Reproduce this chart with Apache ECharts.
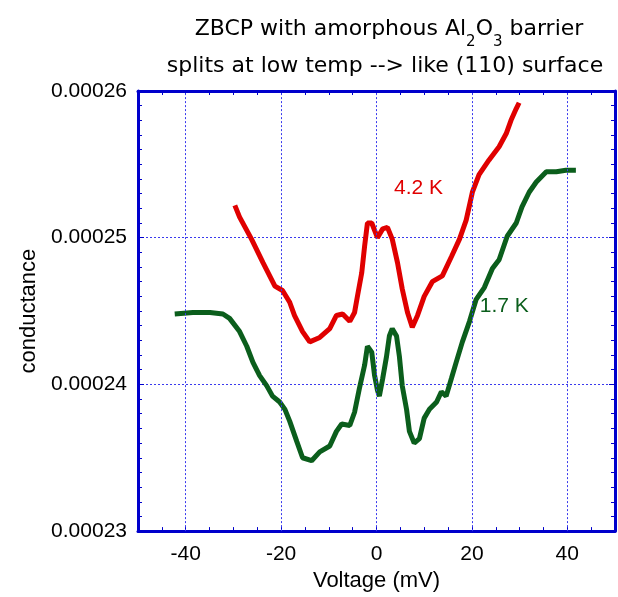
<!DOCTYPE html>
<html>
<head>
<meta charset="utf-8">
<script src="https://cdn.jsdelivr.net/npm/echarts@6/dist/echarts.min.js"></script>
<style>
  html, body { margin: 0; padding: 0; background: #fff; }
  #chart { width: 618px; height: 597px; }
</style>
</head>
<body>
<div id="chart"></div>
<script>
// 4.2 K curve (red)
const redV = [-29.7, -28.7, -26.2, -23.8, -21.3, -19.7, -18.2, -17.2, -15.5, -14.0, -11.9, -9.8, -8.4, -7.1, -5.6, -4.6, -4.0, -3.1, -2.5, -1.9, -1.0, 0.2, 1.3, 2.3, 3.3, 4.4, 5.4, 6.5, 7.5, 8.6, 10.0, 11.7, 13.8, 15.7, 17.4, 18.8, 20.1, 21.5, 23.6, 25.7, 27.2, 28.2, 29.3, 29.9];
const redG = [0.0002522, 0.0002514, 0.0002499, 0.0002483, 0.0002467, 0.0002464, 0.0002456, 0.0002447, 0.0002436, 0.0002429, 0.0002432, 0.0002438, 0.0002447, 0.0002448, 0.0002443, 0.0002449, 0.0002460, 0.0002476, 0.0002494, 0.0002510, 0.0002510, 0.0002500, 0.0002506, 0.0002507, 0.0002499, 0.0002483, 0.0002465, 0.0002449, 0.0002439, 0.0002447, 0.0002460, 0.0002470, 0.0002474, 0.0002487, 0.0002499, 0.0002512, 0.0002531, 0.0002543, 0.0002553, 0.0002562, 0.0002571, 0.0002580, 0.0002588, 0.0002592];

// 1.7 K curve (green)
const greenV = [-42.3, -38.5, -34.9, -32.2, -30.8, -28.7, -27.2, -25.9, -24.5, -23.0, -21.8, -20.3, -19.2, -18.2, -16.7, -15.5, -13.6, -11.9, -9.8, -8.4, -7.3, -5.6, -4.6, -3.6, -2.5, -1.9, -1.0, -0.4, 0.2, 0.6, 1.3, 2.1, 2.7, 3.3, 4.2, 4.8, 5.4, 6.3, 6.9, 7.9, 9.0, 10.0, 11.1, 12.6, 13.6, 14.6, 15.7, 16.7, 18.0, 19.5, 20.9, 22.6, 24.3, 25.7, 27.4, 29.3, 30.5, 32.0, 33.5, 35.6, 37.7, 39.7, 41.8];
const greenG = [0.0002448, 0.0002449, 0.0002449, 0.0002448, 0.0002445, 0.0002436, 0.0002426, 0.0002415, 0.0002406, 0.0002399, 0.0002392, 0.0002388, 0.0002383, 0.0002375, 0.0002361, 0.0002350, 0.0002348, 0.0002354, 0.0002358, 0.0002368, 0.0002373, 0.0002372, 0.0002381, 0.0002397, 0.0002413, 0.0002426, 0.0002422, 0.0002406, 0.0002396, 0.0002392, 0.0002404, 0.0002419, 0.0002433, 0.0002438, 0.0002433, 0.0002419, 0.0002399, 0.0002383, 0.0002368, 0.0002360, 0.0002363, 0.0002377, 0.0002383, 0.0002388, 0.0002395, 0.0002392, 0.0002404, 0.0002415, 0.0002429, 0.0002443, 0.0002458, 0.0002466, 0.0002479, 0.0002485, 0.0002501, 0.0002510, 0.0002521, 0.0002531, 0.0002538, 0.0002545, 0.0002545, 0.0002546, 0.0002546];

const xTicks = [-40, -20, 0, 20, 40];
const curveLabels = [
  { text: '4.2 K', v: 8.8, g: 0.0002534, color: '#e00000' },
  { text: '1.7 K', v: 26.8, g: 0.0002453, color: '#0b5e1c' }
];

const blue = '#0000cc';
const font = "'Liberation Sans', Arial, sans-serif";

function zip(a, b) {
  return a.map((v, i) => [v, b[i]]);
}

const chart = echarts.init(document.getElementById('chart'), null, { renderer: 'canvas' });

const edgeAxis = {
  type: 'value',
  axisLine: { show: true, onZero: false, lineStyle: { color: blue, width: 3 } },
  axisLabel: { show: false },
  splitLine: { show: false }
};

const option = {
  backgroundColor: '#fff',
  animation: false,
  title: [{
    text: 'ZBCP with amorphous Al{s|2}O{s|3} barrier',
    left: 384, top: 4, textAlign: 'center',
    textStyle: {
      fontFamily: 'DejaVu Sans', fontSize: 22, fontWeight: 'normal', color: '#000',
      rich: { s: { fontFamily: 'DejaVu Sans', fontSize: 15, padding: [26, 0, 0, 0], color: '#000' } }
    }
  }, {
    text: 'splits at low temp --> like (110) surface',
    left: 380, top: 50, textAlign: 'center',
    textStyle: { fontFamily: 'DejaVu Sans', fontSize: 22, fontWeight: 'normal', color: '#000' }
  }],
  grid: { left: 138, right: 2, top: 91, bottom: 64 },
  xAxis: [{
    type: 'value', min: -50, max: 50, interval: 10, position: 'bottom',
    name: 'Voltage (mV)', nameLocation: 'middle', nameGap: 36,
    nameTextStyle: { fontFamily: font, fontSize: 22, color: '#000' },
    axisLine: { show: true, onZero: false, lineStyle: { color: blue, width: 3 } },
    axisTick: { show: true, inside: true, length: 4, lineStyle: { color: blue } },
    minorTick: { show: true, splitNumber: 2, length: 4, lineStyle: { color: blue } },
    axisLabel: {
      margin: 13, fontFamily: font, fontSize: 21, color: '#000',
      formatter: v => (v % 20 === 0 && Math.abs(v) < 50) ? String(v) : ''
    },
    splitLine: { show: false }
  }, Object.assign({}, edgeAxis, {
    min: -50, max: 50, interval: 10, position: 'top',
    axisTick: { show: true, inside: true, length: 4, lineStyle: { color: blue } },
    minorTick: { show: true, splitNumber: 2, length: 4, lineStyle: { color: blue } }
  })],
  yAxis: [{
    type: 'value', min: 0.00023, max: 0.00026, interval: 0.00001, position: 'left',
    name: 'conductance', nameLocation: 'middle', nameGap: 90,
    nameTextStyle: { fontFamily: font, fontSize: 22, color: '#000' },
    axisLine: { show: true, onZero: false, lineStyle: { color: blue, width: 3 } },
    axisTick: { show: true, inside: true, length: 6, lineStyle: { color: blue } },
    minorTick: { show: true, splitNumber: 10, length: 4, lineStyle: { color: blue } },
    axisLabel: { margin: 11, fontFamily: font, fontSize: 21, color: '#000', formatter: v => v.toFixed(5) },
    splitLine: { show: true, lineStyle: { color: '#3a3aee', type: [2, 2], width: 1 } }
  }, Object.assign({}, edgeAxis, {
    min: 0.00023, max: 0.00026, interval: 0.00001, position: 'right',
    axisTick: { show: true, inside: true, length: 6, lineStyle: { color: blue } },
    minorTick: { show: true, splitNumber: 10, length: 4, lineStyle: { color: blue } }
  })],
  series: [{
    type: 'line', data: [], z: 1, silent: true,
    markLine: {
      silent: true, symbol: ['none', 'none'], label: { show: false },
      lineStyle: { color: '#3a3aee', type: [2, 2], width: 1 },
      data: xTicks.map(v => ({ xAxis: v }))
    }
  }, {
    name: '4.2 K', type: 'line', z: 3, showSymbol: false,
    lineStyle: { color: '#e00000', width: 5 },
    data: zip(redV, redG)
  }, {
    name: '1.7 K', type: 'line', z: 3, showSymbol: false,
    lineStyle: { color: '#0b5e1c', width: 5 },
    data: zip(greenV, greenG)
  }, {
    type: 'scatter', z: 4, symbolSize: 0, silent: true,
    data: curveLabels.map(d => ({
      value: [d.v, d.g],
      label: { show: true, formatter: d.text, position: 'inside', color: d.color, fontFamily: font, fontSize: 21, opacity: 1 }
    }))
  }]
};

chart.setOption(option);
</script>
</body>
</html>
